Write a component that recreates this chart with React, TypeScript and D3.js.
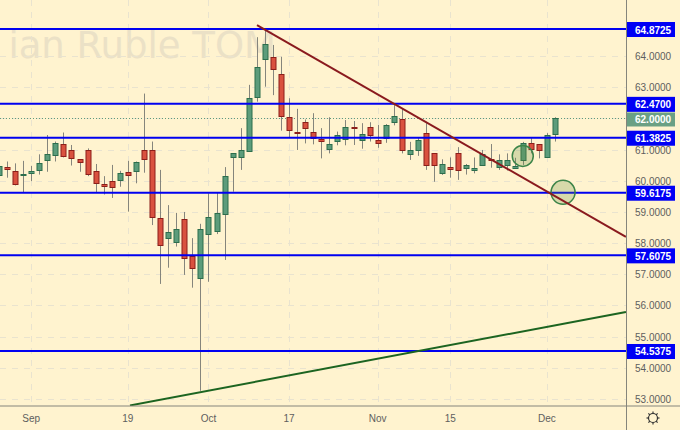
import React from "react";
import * as d3 from "d3";

const opens = [60.19,60.45,60.32,60.19,60.24,60.33,60.68,60.83,61.18,60.98,60.69,60.98,60.30,59.90,59.98,60.00,60.27,60.29,60.98,60.98,58.80,58.18,58.03,58.77,57.59,56.89,58.29,58.39,58.95,60.77,60.77,60.98,62.67,63.90,63.98,63.43,62.04,61.58,61.88,61.56,61.35,61.01,61.27,61.37,61.74,61.31,61.74,61.30,61.37,61.88,61.97,60.86,60.98,61.53,60.89,60.24,60.43,60.89,60.42,60.35,60.51,60.69,60.45,60.51,60.41,60.65,61.20,61.17,60.77,61.48];
const highs = [60.55,60.62,60.56,60.64,60.48,60.85,61.47,61.26,61.55,61.15,60.69,61.04,60.54,60.15,60.51,60.32,60.64,60.62,62.80,61.26,60.35,59.22,58.97,59.00,58.16,58.62,59.60,59.62,60.44,60.89,61.69,63.08,64.61,64.90,64.36,63.98,62.65,62.31,61.97,62.17,61.69,62.04,61.58,61.95,61.92,61.85,61.88,61.79,61.82,62.49,62.30,61.25,61.37,61.85,60.89,60.69,60.75,61.08,60.54,60.75,60.99,61.18,60.85,60.88,60.74,61.25,61.37,61.17,61.53,62.04];
const lows = [60.10,60.10,59.85,59.63,59.99,60.20,60.29,60.62,60.75,60.49,60.29,60.15,59.64,59.56,59.45,59.81,59.01,59.92,60.26,58.58,56.69,57.21,57.89,56.98,56.57,53.26,56.76,58.29,57.46,59.65,60.35,60.98,62.54,63.02,62.75,61.61,61.37,60.99,61.20,61.17,60.72,60.88,61.14,61.14,61.15,61.03,61.26,61.06,61.22,61.78,60.88,60.67,60.80,60.35,59.97,60.19,60.10,60.03,60.20,60.24,60.51,60.42,60.35,60.33,60.41,60.51,60.88,60.72,60.77,61.26];
const closes = [60.49,60.38,59.91,60.22,60.30,60.56,60.86,61.20,60.78,60.71,60.58,60.22,59.90,59.85,59.78,60.24,60.17,60.59,60.69,58.82,57.92,58.37,58.45,57.53,57.21,58.45,58.85,58.97,60.17,60.89,60.98,62.67,63.64,64.39,63.61,62.09,61.62,61.55,61.70,61.36,61.27,61.18,61.47,61.74,61.70,61.50,61.47,61.20,61.79,62.08,60.98,60.98,61.30,60.51,60.51,60.54,60.38,60.34,60.51,60.40,60.85,60.66,60.68,60.66,60.49,61.20,61.01,60.98,61.48,62.00];

const priceTicks = [53, 54, 55, 56, 57, 58, 59, 60, 61, 62, 63, 64];
const levels = [64.8725, 62.47, 61.3825, 59.6175, 57.6075, 54.5375];
const lastPrice = 62.0;
const timeTickIdx = [3, 15, 25, 35, 46, 55, 67];
const timeTickLabels = ["Sep", "19", "Oct", "17", "Nov", "15", "Dec"];

const resistIdx = [31.02, 76.8];
const resistPrice = [65.0, 58.2];
const supportIdx = [15.26, 76.8];
const supportPrice = [52.79, 55.79];
const circleIdx = [64.0, 69.0];
const circlePrice = [60.8, 59.63];
const circleRadius = [10.5, 12];

const W = 680, H = 430, paneR = 626.5, paneB = 406;
const x = d3.scaleLinear().domain([-1, 68]).range([-1.06, 555]);
const y = d3.scaleLinear().domain([53, 64.8725]).range([398.9, 29]);
const FONT = "'Liberation Sans', Arial, sans-serif";
const snap = (v: number) => Math.round(v) + 0.5;

export default function App() {
  const line = d3.line<[number, number]>().x(d => x(d[0])).y(d => y(d[1]));
  return (
    <svg width={W} height={H} style={{ position: "absolute", left: 0, top: 0, display: "block" }} fontFamily={FONT}>
      <defs>
        <clipPath id="pane"><rect x={0} y={0} width={paneR} height={paneB} /></clipPath>
      </defs>
      <rect width={W} height={H} fill="#fff3cf" />
      <text x={276} y={58} textAnchor="end" fontSize={37} fontFamily="'DejaVu Sans', sans-serif" fill="#ebe1c6">ian Ruble TOM</text>
      <g clipPath="url(#pane)">
        {priceTicks.map(p => (
          <line key={p} x1={0} x2={paneR} y1={snap(y(p))} y2={snap(y(p))} stroke="#e9e3cf" strokeDasharray="6 6" />
        ))}
        {timeTickIdx.map(i => (
          <line key={i} x1={snap(x(i))} x2={snap(x(i))} y1={0} y2={paneB} stroke="#e9e3cf" strokeDasharray="6 6" />
        ))}
        <line x1={0} x2={paneR} y1={snap(y(lastPrice))} y2={snap(y(lastPrice))} stroke="#5f9a7c" strokeDasharray="1 2" />
        {opens.map((o, k) => {
          const c = closes[k], up = c >= o, cx = x(k - 1);
          const top = y(Math.max(o, c)), bot = y(Math.min(o, c));
          return (
            <g key={k}>
              <line x1={Math.round(cx) + 0.5} x2={Math.round(cx) + 0.5} y1={y(highs[k])} y2={y(lows[k])} stroke="#85857c" />
              <rect x={Math.round(cx) - 2} y={Math.round(top) + 0.5} width={5} height={Math.max(1, Math.round(bot - top))}
                fill={up ? "#5c9c7b" : "#d9513f"} stroke={up ? "#2c6e4c" : "#8c1f1a"} />
            </g>
          );
        })}
        {levels.map(p => (
          <line key={p} x1={0} x2={paneR} y1={y(p)} y2={y(p)} stroke="#0000f0" strokeWidth={2} />
        ))}
        {circleIdx.map((c, k) => (
          <circle key={k} cx={x(c)} cy={y(circlePrice[k])} r={circleRadius[k]} fill="#5f8a3c" fillOpacity={0.25} stroke="#3c8448" strokeWidth={1.5} />
        ))}
        <path d={line(resistIdx.map((v, k) => [v, resistPrice[k]] as [number, number])) ?? ""} fill="none" stroke="#8a1a1e" strokeWidth={2} />
        <path d={line(supportIdx.map((v, k) => [v, supportPrice[k]] as [number, number])) ?? ""} fill="none" stroke="#1c6420" strokeWidth={2} />
      </g>
      <line x1={paneR} x2={paneR} y1={0} y2={H} stroke="#85857c" />
      <line x1={0} x2={W} y1={paneB} y2={paneB} stroke="#85857c" />
      {priceTicks.map(p => (
        <text key={p} x={635} y={y(p) + 4} fontSize={10} fill="#5e5e5e">{p.toFixed(4)}</text>
      ))}
      {timeTickIdx.map((i, k) => (
        <text key={i} x={x(i)} y={422} textAnchor="middle" fontSize={10} fill="#5e5e5e">{timeTickLabels[k]}</text>
      ))}
      <rect x={627} y={y(lastPrice) - 6} width={48} height={14} fill="#6aa084" />
      <text x={635} y={y(lastPrice) + 5} fontSize={10} fontWeight="bold" fill="#fff">{lastPrice.toFixed(4)}</text>
      {levels.map(p => (
        <g key={p}>
          <rect x={627} y={y(p) - 7} width={48} height={15} fill="#0000f5" />
          <text x={635} y={y(p) + 4.5} fontSize={10} fontWeight="bold" fill="#fff">{p.toFixed(4)}</text>
        </g>
      ))}
      <g transform="translate(653 418)" fill="none" stroke="#333">
        <circle r={4.5} strokeWidth={1.2} />
        {d3.range(8).map(k => {
          const a = k * Math.PI / 4;
          return <line key={k} x1={4.5 * Math.cos(a)} y1={4.5 * Math.sin(a)} x2={6.5 * Math.cos(a)} y2={6.5 * Math.sin(a)} strokeWidth={1.2} />;
        })}
      </g>
    </svg>
  );
}
